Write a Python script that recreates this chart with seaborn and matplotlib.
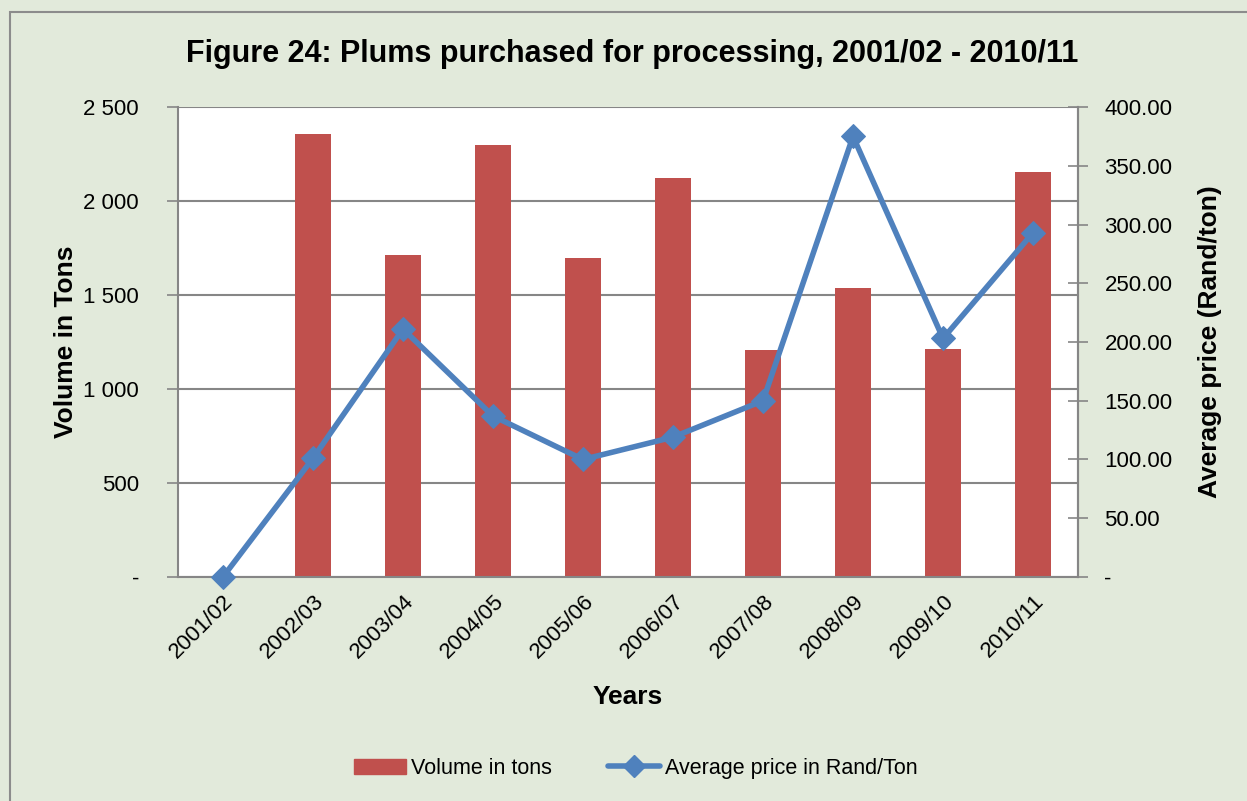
import matplotlib
matplotlib.use('Agg')
import matplotlib.pyplot as plt
import matplotlib.patches as mpatches
from matplotlib.lines import Line2D
import seaborn as sns

# Data
years = ['2001/02', '2002/03', '2003/04', '2004/05', '2005/06',
         '2006/07', '2007/08', '2008/09', '2009/10', '2010/11']
volume_tons = [0, 2356, 1713, 2298, 1697, 2122, 1207, 1537, 1213, 2154]
price_rand_ton = [0, 101, 211, 137, 100, 119, 150, 375, 203, 293]

left_ticks = [0, 500, 1000, 1500, 2000, 2500]
left_labels = ['-', '500', '1 000', '1 500', '2 000', '2 500']
right_ticks = [0, 50, 100, 150, 200, 250, 300, 350, 400]
right_labels = ['-', '50.00', '100.00', '150.00', '200.00', '250.00', '300.00', '350.00', '400.00']

bar_color = '#C0504D'
line_color = '#4F81BD'
bg_color = '#E2EADB'
grid_color = '#868686'

sns.set_style('white')
plt.rcParams['font.family'] = ['Liberation Sans', 'DejaVu Sans']
plt.rcParams['text.color'] = 'black'
plt.rcParams['axes.labelcolor'] = 'black'

fig = plt.figure(figsize=(12.47, 8.01), dpi=100, facecolor=bg_color)
ax = fig.add_axes([0.1427, 0.2797, 0.7218, 0.5867])
ax.set_facecolor('white')

# bars
sns.barplot(x=years, y=volume_tons, ax=ax, color=bar_color, width=0.4,
            saturation=1, edgecolor='none', zorder=2)
ax.set_ylim(0, 2500)
ax.set_xlim(-0.5, 9.5)
ax.set_yticks(left_ticks)
ax.set_yticklabels(left_labels, fontsize=16)
ax.yaxis.grid(True, color=grid_color, linewidth=1.5, zorder=0)
ax.set_axisbelow(True)
ax.tick_params(axis='y', direction='out', length=8, color=grid_color, width=1.2,
               pad=20, labelcolor='black')
ax.tick_params(axis='x', length=0, pad=10, labelcolor='black')
ax.set_xticks(range(len(years)))
ax.set_xticklabels(years, rotation=45, ha='right', rotation_mode='anchor', fontsize=16)
ax.set_ylabel('Volume in Tons', fontsize=19, fontweight='bold', labelpad=4)
ax.set_xlabel('Years', fontsize=19, fontweight='bold', labelpad=16)
for side in ['left', 'bottom', 'right']:
    ax.spines[side].set_color(grid_color)
    ax.spines[side].set_linewidth(1.5)
ax.spines['top'].set_visible(False)

# line on secondary axis
ax2 = ax.twinx()
sns.lineplot(x=list(range(len(years))), y=price_rand_ton, ax=ax2, color=line_color,
             linewidth=4, marker='D', markersize=12, markeredgecolor=line_color,
             clip_on=False, zorder=3)
ax2.set_ylim(0, 400)
ax2.set_xlim(-0.5, 9.5)
ax2.set_yticks(right_ticks)
ax2.set_yticklabels(right_labels, fontsize=16)
ax2.tick_params(axis='y', direction='inout', length=14, color=grid_color, width=1.2,
                pad=12, labelcolor='black')
ax2.set_ylabel('Average price (Rand/ton)', fontsize=19, fontweight='bold', labelpad=18)
for side in ['left', 'bottom', 'top']:
    ax2.spines[side].set_visible(False)
ax2.spines['right'].set_color(grid_color)
ax2.spines['right'].set_linewidth(1.5)
ax2.grid(False)

fig.text(0.507, 0.932, 'Figure 24: Plums purchased for processing, 2001/02 - 2010/11',
         ha='center', va='center', fontsize=22, fontweight='bold')

# legend
handles = [mpatches.Patch(color=bar_color, label='Volume in tons'),
           Line2D([0], [0], color=line_color, linewidth=4, marker='D', markersize=11,
                  label='Average price in Rand/Ton')]
fig.legend(handles=handles, loc='center', bbox_to_anchor=(0.51, 0.041), ncol=2,
           frameon=False, fontsize=15.5, handlelength=2.4, columnspacing=2.6,
           handletextpad=0.25)

# outer border
fig.patches.append(mpatches.Rectangle((0.008, -0.01), 1.0, 0.995, transform=fig.transFigure,
                                      fill=False, edgecolor='#8C8C8C', linewidth=1.5))

plt.savefig('out.png', dpi=100, facecolor=bg_color)
